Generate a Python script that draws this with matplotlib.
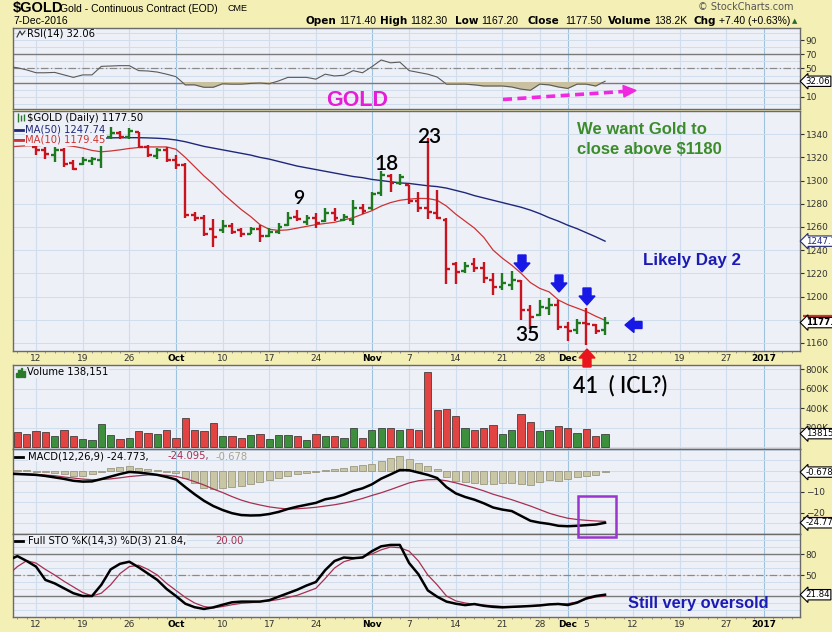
import numpy as np
import pandas as pd
import matplotlib
matplotlib.use("Agg")
import matplotlib.pyplot as plt
from matplotlib.patches import Polygon, Rectangle

# ---------------- data ----------------
holidays = pd.to_datetime(["2016-11-24", "2016-12-26", "2017-01-02"])
days = pd.bdate_range("2016-09-07", "2017-01-06")
days = list(days[~days.isin(holidays)])
first_bar = days.index(pd.Timestamp("2016-09-12"))

tick_dates = ["2016-09-12", "2016-09-19", "2016-09-26", "2016-10-03", "2016-10-10",
              "2016-10-17", "2016-10-24", "2016-11-01", "2016-11-07", "2016-11-14",
              "2016-11-21", "2016-11-28", "2016-12-01", "2016-12-05", "2016-12-12",
              "2016-12-19", "2016-12-27", "2017-01-03"]
tick_labels = ["12", "19", "26", "Oct", "10", "17", "24", "Nov", "7", "14",
               "21", "28", "Dec", "5", "12", "19", "27", "2017"]
months = ("Oct", "Nov", "Dec", "2017")

# OHLC, 12 Sep .. 7 Dec 2016
opens = [1329, 1326, 1322, 1326, 1315, 1314, 1317, 1318, 1338, 1341, 1338, 1342, 1329, 1321,
         1326, 1318, 1313, 1270, 1268, 1258, 1257, 1261, 1257, 1254, 1258, 1252, 1256, 1262,
         1269, 1264, 1268, 1265, 1272, 1266, 1266, 1276, 1276, 1289, 1304, 1298, 1296, 1282,
         1276, 1272, 1266, 1228, 1222, 1228, 1225, 1214, 1208, 1210, 1213, 1188, 1184, 1190,
         1193, 1174, 1171, 1177, 1175, 1171.4]
highs = [1331, 1329, 1329, 1328, 1318, 1320, 1320, 1338, 1346, 1343, 1345, 1342, 1331, 1328,
         1329, 1322, 1315, 1273, 1270, 1267, 1266, 1263, 1259, 1260, 1262, 1259, 1263, 1273,
         1275, 1270, 1272, 1276, 1276, 1271, 1283, 1280, 1290, 1308, 1306, 1306, 1296, 1290,
         1337, 1292, 1268, 1230, 1230, 1233, 1230, 1220, 1220, 1222, 1214, 1193, 1197, 1199,
         1197, 1178, 1181, 1190, 1176, 1182.3]
lows = [1322, 1319, 1316, 1312, 1309, 1313, 1313, 1311, 1336, 1336, 1336, 1328, 1320, 1319,
        1316, 1310, 1268, 1265, 1252, 1243, 1255, 1254, 1251, 1254, 1247, 1251, 1254, 1261,
        1265, 1262, 1259, 1264, 1265, 1265, 1262, 1271, 1275, 1287, 1290, 1296, 1280, 1273,
        1267, 1267, 1211, 1211, 1220, 1221, 1212, 1201, 1206, 1206, 1180, 1172, 1183, 1184,
        1171, 1162, 1168, 1158, 1168, 1167.2]
closes = [1326, 1323, 1326, 1314, 1310, 1318, 1319, 1336, 1341, 1338, 1343, 1329, 1322, 1326,
          1318, 1313, 1270, 1268, 1254, 1251, 1261, 1256, 1254, 1258, 1252, 1256, 1260, 1268,
          1267, 1268, 1263, 1272, 1268, 1269, 1276, 1274, 1288, 1305, 1298, 1303, 1282, 1276,
          1273, 1268, 1224, 1221, 1226, 1225, 1216, 1208, 1212, 1214, 1188, 1182, 1191, 1193,
          1174, 1170, 1177, 1176, 1170.1, 1177.5]
closes_before = [1349, 1337, 1328]   # 7-9 Sep, only colour the volume bars

# lines, 7 Sep .. 7 Dec
ma10 = [1329, 1329.5, 1330, 1330, 1330.5, 1330.5, 1330.5, 1329.5, 1328, 1326, 1324.8, 1325.5,
        1326.5, 1327.7, 1328.5, 1329, 1329, 1329, 1327, 1320, 1312, 1304, 1297, 1289, 1282,
        1275, 1269, 1262, 1258, 1257, 1257.5, 1259, 1260.5, 1262, 1263, 1264, 1266, 1268, 1271,
        1274, 1278, 1281, 1283, 1284, 1284.6, 1284.5, 1283, 1278, 1271, 1265, 1259, 1251, 1240,
        1233, 1227, 1220, 1212, 1207, 1204, 1197, 1193, 1190, 1187, 1183, 1179.45]
ma50 = [1334.5, 1335, 1335, 1335.5, 1335.5, 1336, 1336, 1336, 1336, 1336.3, 1336.5, 1336.8,
        1337, 1337, 1337, 1336.8, 1336.5, 1336, 1335, 1333.5, 1331.5, 1329.5, 1328, 1326.5,
        1325, 1323.5, 1322, 1320, 1318.5, 1316.5, 1314.5, 1312.5, 1311, 1309.5, 1308, 1306.5,
        1305, 1303.5, 1302.5, 1301, 1300, 1299, 1298, 1297.5, 1296.5, 1295.5, 1294.8, 1293.5,
        1291.5, 1289.5, 1287, 1285, 1283, 1281, 1279, 1277, 1274.5, 1271.5, 1268, 1265, 1261.5,
        1258.5, 1255, 1251.5, 1247.74]
rsi = [53, 51, 48, 44, 44, 44.5, 41, 37.5, 41, 41, 53, 53.5, 54, 54, 47, 46.5, 45, 42, 38.5,
       27, 27, 23.6, 23.6, 28.5, 28, 28, 29, 29.5, 28.5, 32.5, 37.5, 37.5, 37.5, 35, 42, 39.5,
       40.5, 47, 44, 52.5, 62, 58, 59, 47, 44.5, 42, 38, 28, 28, 28, 27, 25.4, 25.4, 25.4, 24,
       21, 19.4, 28, 27, 24, 22, 28, 28, 25.4, 32.06]
macd = [-1.4, -1.6, -1.8, -2.0, -2.5, -3.2, -3.9, -4.8, -5.2, -5.1, -4.0, -2.8, -1.6, -0.6,
        -0.9, -1.4, -2.0, -3.0, -4.2, -7.8, -11.2, -14.3, -16.8, -18.7, -20.2, -21.1, -21.3,
        -21.2, -20.6, -19.6, -18.2, -17.1, -16.2, -15.3, -13.6, -12.8, -11.4, -9.6, -8.4, -6.5,
        -3.8, -1.8, 0.3, 0.2, -0.9, -2.0, -3.5, -7.8, -10.8, -12.5, -13.8, -15.5, -17.5, -18.5,
        -19.2, -21.5, -23.8, -24.7, -25.3, -26.2, -26.4, -26.2, -25.9, -25.6, -24.773]
signal = [-1.2, -1.3, -1.5, -1.8, -2.1, -2.4, -3.0, -3.5, -4.0, -4.3, -4.2, -3.9, -3.4, -2.8,
          -2.4, -2.0, -2.0, -2.2, -2.7, -3.8, -5.2, -6.8, -8.7, -10.4, -12.3, -14.0, -15.3,
          -16.3, -17.2, -17.8, -18.2, -18.1, -17.8, -17.4, -16.8, -16.2, -15.4, -14.4, -13.2,
          -11.8, -10.5, -9.0, -7.4, -5.8, -4.8, -4.3, -4.2, -4.8, -5.8, -7.0, -8.2, -9.6, -11.2,
          -12.5, -13.8, -15.3, -16.8, -18.5, -20.2, -21.5, -22.6, -23.2, -23.6, -23.9, -24.095]
stoch_k = [71, 77, 70, 62, 43, 38, 31, 24, 20, 20, 36, 58, 66, 69, 61, 52, 43, 30, 20, 9, 4,
           1.5, 3.8, 7.5, 11, 12, 12, 12, 14, 19, 24, 29, 35, 40, 57, 70, 75, 74, 75, 84, 91, 93,
           93, 67, 51, 28, 19, 12, 9, 7, 8.5, 6, 4.5, 3.8, 4.5, 5, 5.7, 6.5, 8, 8.6, 7.1, 10.5,
           16.7, 20, 21.84]
stoch_d = [50, 62, 70.5, 67, 58, 50, 41, 33, 25, 20, 24, 36, 52, 62, 64, 58, 50, 38, 28, 18,
           10, 5, 3, 5, 7.5, 9.5, 10.5, 12, 13, 15, 18, 21, 26, 31, 45, 60, 69, 73, 76, 80, 86,
           90, 89, 84, 70, 50, 36, 20, 13, 10, 8, 7, 6, 5, 4.8, 5.2, 6, 7, 7.8, 8.5, 9, 11.5,
           15.5, 18.5, 20]

# bars, 8 Sep .. 7 Dec
volume = [154e3, 130e3, 162e3, 151e3, 110e3, 179e3, 110e3, 86e3, 68e3, 234e3, 127e3, 86e3,
          96e3, 162e3, 144e3, 130e3, 179e3, 96e3, 304e3, 179e3, 162e3, 248e3, 110e3, 110e3,
          96e3, 120e3, 138e3, 86e3, 120e3, 120e3, 110e3, 76e3, 130e3, 110e3, 110e3, 96e3,
          200e3, 96e3, 172e3, 200e3, 200e3, 179e3, 190e3, 172e3, 776e3, 379e3, 397e3, 317e3,
          200e3, 172e3, 200e3, 224e3, 138e3, 179e3, 338e3, 258e3, 162e3, 179e3, 213e3, 200e3,
          144e3, 190e3, 110e3, 138151]
macd_hist = [0.3, 0.3, -0.6, -0.8, -1.2, -1.8, -2.3, -2.3, -1.6, -0.6, 1.1, 1.6, 2.0, 1.3, 0.6,
             0.3, -0.4, -1.2, -3.6, -6.0, -8.0, -8.5, -8.3, -7.9, -7.1, -6.3, -5.5, -4.6, -3.5,
             -2.4, -1.6, -1.0, -0.5, 0.4, 0.9, 1.5, 2.1, 2.6, 3.2, 4.6, 5.9, 6.8, 5.6, 3.6, 2.0,
             0.6, -3.2, -4.8, -5.6, -5.9, -6.2, -6.3, -6.0, -5.7, -6.3, -6.8, -5.3, -4.5, -4.7,
             -4.0, -3.2, -2.5, -2.0, -0.678]

# ---------------- layout / style ----------------
W, H = 832, 632
L, R = 13, 800
X0, X1 = -2.47, 81.9
BG = "#F3EFB5"
PANEL = "#EEF0F8"
GRID = "#CFDDEC"
MGRID = "#9EC3DF"
UP, DN = "#1E7A1E", "#C8141E"
VUP, VDN = "#3D8E3D", "#E24444"
FONT = "DejaVu Sans"

fig = plt.figure(figsize=(W / 100, H / 100), dpi=100, facecolor=BG)

tick_pos = [days.index(pd.Timestamp(d)) - first_bar for d in tick_dates]
x_line = np.arange(len(ma10)) - 3
x_vol = np.arange(len(volume)) - 2
x_bar = np.arange(len(closes))


def panel(top, bottom, yticks, ylim, hlines=(), show_dates=False):
    ax = fig.add_axes([L / W, 1 - bottom / H, (R - L) / W, (bottom - top) / H])
    ax.set_facecolor(PANEL)
    ax.set_xlim(X0, X1)
    ax.set_ylim(*ylim)
    for s in ax.spines.values():
        s.set_color("#6A6A6A")
        s.set_linewidth(1)
    for p, lab in zip(tick_pos, tick_labels):
        ax.axvline(p, color=MGRID if lab in months else GRID, lw=0.8, zorder=0)
    for y in hlines:
        ax.axhline(y, color=GRID, lw=0.7, zorder=0)
    ax.yaxis.tick_right()
    ax.set_yticks(yticks)
    ax.tick_params(axis="y", labelsize=6.5, length=3, width=0.8, pad=1,
                   colors="#333333", labelfontfamily=FONT)
    ax.set_xticks(tick_pos)
    ax.set_xticks(np.arange(-2, 82), minor=True)
    ax.tick_params(axis="x", which="both", length=0)
    if show_dates:
        ax.set_xticklabels(tick_labels)
        ax.tick_params(axis="x", which="major", labelsize=6.5, pad=2, colors="#333333")
        ax.tick_params(axis="x", which="minor", length=1.5, color="#888888", direction="out")
        for t in ax.get_xticklabels():
            t.set_fontfamily(FONT)
            if t.get_text() in months:
                t.set_fontweight("bold")
                t.set_color("black")
    else:
        ax.set_xticklabels([])
    return ax


def tag(ax, value, text, ec="black", tc="black", bold=False):
    ax.annotate(text, xy=(1, value), xycoords=("axes fraction", "data"),
                xytext=(4, 0), textcoords="offset points", ha="left", va="center",
                fontsize=6.2, family=FONT, color=tc, fontweight="bold" if bold else "normal",
                bbox=dict(boxstyle="larrow,pad=0.08", fc="white", ec=ec, lw=0.8),
                annotation_clip=False, zorder=10)


def hidden_tag(ax, value, col):
    # tag that sits behind the next one, only its outline peeks out
    ax.add_patch(Rectangle((1.004, value), 0.05, 0, transform=ax.get_yaxis_transform(),
                           clip_on=False, ec=col, lw=1.6, zorder=9))


# RSI
ax_rsi = panel(28, 109, [10, 50, 70, 90], (-7, 107), hlines=np.arange(0, 101, 10))
ax_rsi.axhline(70, color="#7A7A7A", lw=1)
ax_rsi.axhline(30, color="#7A7A7A", lw=1)
ax_rsi.axhline(50, color="#8A8A8A", lw=0.9, ls=(0, (6, 2, 1, 2)))
rsi_a = np.array(rsi)
ax_rsi.fill_between(x_line, rsi_a, 30, where=rsi_a < 30, interpolate=True,
                    color="#C9C0A0", zorder=2)
ax_rsi.plot(x_line, rsi_a, color="#5A5A5A", lw=0.8, zorder=3)
tag(ax_rsi, rsi[-1], "32.06")

# Price
ax_p = panel(111, 351, [1160, 1200, 1220, 1240, 1260, 1280, 1300, 1320, 1340],
             (1153, 1360), hlines=np.arange(1160, 1361, 20), show_dates=True)
prev = closes_before[-1:] + closes[:-1]
bar_col = [UP if c > p else DN for c, p in zip(closes, prev)]
ax_p.plot(x_line, ma50, color="#1F2878", lw=1.0, zorder=2)
ax_p.plot(x_line, ma10, color="#CC3333", lw=0.9, zorder=2)
ax_p.vlines(x_bar, lows, highs, colors=bar_col, lw=1.7, zorder=3)
ax_p.hlines(opens, x_bar - 0.42, x_bar, colors=bar_col, lw=1.7, zorder=3)
ax_p.hlines(closes, x_bar, x_bar + 0.42, colors=bar_col, lw=1.7, zorder=3)
tag(ax_p, ma50[-1], "1247.74", ec="#1F2878", tc="#1F2878")
hidden_tag(ax_p, ma10[-1] + 3.5, "#CC3333")
tag(ax_p, closes[-1], "1177.50", bold=True)

# Volume
ax_v = panel(365, 449, [200e3, 400e3, 600e3, 800e3], (-20e3, 845e3),
             hlines=np.arange(0, 800001, 200e3))
ax_v.set_yticklabels(["200K", "400K", "600K", "800K"])
all_closes = closes_before + closes
vol_col = [VUP if all_closes[k + 1] > all_closes[k] else VDN for k in range(len(volume))]
ax_v.bar(x_vol, volume, width=0.78, color=vol_col, edgecolor="#2B2B2B", lw=0.5, zorder=3)
tag(ax_v, volume[-1], "138151")

# MACD
ax_m = panel(449, 534, [-20, -10], (-30.1, 10.3), hlines=np.arange(-30, 11, 5))
ax_m.bar(x_vol, macd_hist, width=0.75, color="#C9C6A6", edgecolor="#8E8B73", lw=0.5, zorder=2)
ax_m.plot(x_line, signal, color="#A63050", lw=0.9, zorder=3)
ax_m.plot(x_line, macd, color="black", lw=1.8, zorder=4)
hidden_tag(ax_m, signal[-1] + 1.6, "#CC2222")
tag(ax_m, macd[-1], "-24.773")
tag(ax_m, macd_hist[-1], "-0.678")

# Full stochastics
ax_s = panel(534, 617, [50, 80], (-10, 108.6), hlines=np.arange(0, 101, 10), show_dates=True)
ax_s.axhline(80, color="#7A7A7A", lw=1)
ax_s.axhline(20, color="#7A7A7A", lw=1)
ax_s.axhline(50, color="#8A8A8A", lw=0.9, ls=(0, (6, 2, 1, 2)))
ax_s.plot(x_line, stoch_d, color="#A63050", lw=0.9, zorder=3)
ax_s.plot(x_line, stoch_k, color="black", lw=1.8, zorder=4)
tag(ax_s, stoch_k[-1], "21.84")

# ---------------- overlay in pixel coordinates: header, legends, notes ----------------
ov = fig.add_axes([0, 0, 1, 1], zorder=20)
ov.set_xlim(0, W)
ov.set_ylim(H, 0)
ov.axis("off")
ov.patch.set_alpha(0)

ov.text(13, 8, "$GOLD", fontsize=10.5, fontweight="bold", family="Liberation Sans", va="center")
ov.text(60, 8.5, "Gold - Continuous Contract (EOD)", fontsize=7.5, family="Liberation Sans",
        va="center")
ov.text(227, 8.5, "CME", fontsize=6.5, family="Liberation Sans", va="center")
ov.text(13, 21.5, "7-Dec-2016", fontsize=7.5, family="Liberation Sans", va="center")
ov.text(793, 7, "\u00a9 StockCharts.com", fontsize=7, family=FONT, color="#555555",
        ha="right", va="center")
head = [(306, "Open", True), (339, "1171.40", False), (380, "High", True),
        (410, "1182.30", False), (455, "Low", True), (481, "1167.20", False),
        (528, "Close", True), (565, "1177.50", False), (608, "Volume", True),
        (654, "138.2K", False), (694, "Chg", True), (719, "+7.40 (+0.63%)", False)]
for hx, txt, b in head:
    ov.text(hx, 21, txt, fontsize=7.5, va="center",
            family=FONT if b else "Liberation Sans", fontweight="bold" if b else "normal")
ov.text(792, 21, "\u25b2", fontsize=5, color="#2A6A2A", va="center", family=FONT)

legend_box = dict(boxstyle="square,pad=0.05", fc=PANEL, ec="none")
ov.text(27, 34, "RSI(14) 32.06", fontsize=7.2, family=FONT, va="center", bbox=legend_box)
ov.plot([17, 20, 22, 25], [37, 31, 35, 31], color="#333333", lw=0.8)
ov.text(27, 118, "$GOLD (Daily) 1177.50", fontsize=7.2, family=FONT, va="center",
        bbox=legend_box)
ov.vlines([17.5, 20.5, 23.5], [113, 115, 114], [122, 121, 121], color="#2A7A2A", lw=1)
ov.plot([15, 23], [129.5, 129.5], color="#1F2878", lw=2)
ov.text(25, 129.5, "MA(50) 1247.74", fontsize=7.2, family=FONT, color="#1F2878", va="center",
        bbox=legend_box)
ov.plot([15, 23], [140, 140], color="#CC3333", lw=2)
ov.text(25, 140, "MA(10) 1179.45", fontsize=7.2, family=FONT, color="#CC3333", va="center",
        bbox=legend_box)
ov.text(27, 372.5, "Volume 138,151", fontsize=7.2, family=FONT, va="center", bbox=legend_box)
for k, hh in enumerate([4, 7, 9, 6]):
    ov.add_patch(Rectangle((16 + 2.3 * k, 377 - hh), 1.8, hh, color="#2A7A2A"))
ov.plot([15, 23], [456.5, 456.5], color="black", lw=2)
ov.text(28, 456.5, "MACD(12,26,9) -24.773,", fontsize=7.2, family=FONT, va="center",
        bbox=legend_box)
ov.text(168, 456.5, "-24.095,", fontsize=7.2, family=FONT, color="#A63050", va="center")
ov.text(216, 456.5, "-0.678", fontsize=7.2, family=FONT, color="#A8A490", va="center")
ov.plot([15, 23], [540.5, 540.5], color="black", lw=2)
ov.text(28, 540.5, "Full STO %K(14,3) %D(3) 21.84,", fontsize=7.2, family=FONT, va="center",
        bbox=legend_box)
ov.text(215, 540.5, "20.00", fontsize=7.2, family=FONT, color="#A63050", va="center")

# hand-drawn notes
ov.text(357, 101, "GOLD", fontsize=15.5, fontweight="bold", family="Liberation Sans",
        color="#E61CD6", ha="center", va="center")
ov.plot([503, 623], [99.5, 91.5], color="#F028E0", lw=2.6, ls=(0, (2.5, 1.5)))
ov.add_patch(Polygon([(623, 85.5), (636, 90.5), (624, 97)], closed=True, color="#F028E0"))

bold_txt = dict(fontweight="bold", family="Liberation Sans", va="center")
ov.text(577, 130, "We want Gold to", fontsize=12, color="#3C8C2C", **bold_txt)
ov.text(577, 150, "close above $1180", fontsize=12, color="#3C8C2C", **bold_txt)
ov.text(692, 260.5, "Likely Day 2", fontsize=12.2, color="#1C1CB4", ha="center", **bold_txt)
ov.text(698, 603.5, "Still very oversold", fontsize=11.8, color="#1C1CB4", ha="center",
        **bold_txt)

num_txt = dict(family="Lato", fontweight="semibold", color="black", ha="center", va="center")
ov.text(299, 198, "9", fontsize=14, **num_txt)
ov.text(387, 164, "18", fontsize=15, **num_txt)
ov.text(429, 137, "23", fontsize=15, **num_txt)
ov.text(527, 335, "35", fontsize=15, **num_txt)
ov.text(573, 386, "41  ( ICL?)", fontsize=15.5, family="Lato", fontweight="semibold",
        color="black", va="center")


def down_arrow(cx, tip, col):
    ov.add_patch(Polygon([(cx - 4, tip - 17), (cx + 4, tip - 17), (cx + 4, tip - 9),
                          (cx + 8, tip - 9), (cx, tip), (cx - 8, tip - 9), (cx - 4, tip - 9)],
                         closed=True, color=col))


down_arrow(522, 272, "#1818E6")
down_arrow(559, 292, "#1818E6")
down_arrow(587, 305, "#1818E6")
ov.add_patch(Polygon([(625, 325), (634, 317.5), (634, 321.5), (642, 321.5), (642, 328.5),
                      (634, 328.5), (634, 332.5)], closed=True, color="#1818E6"))
ov.add_patch(Polygon([(587, 349), (595, 358), (591, 358), (591, 367), (583, 367), (583, 358),
                      (579, 358)], closed=True, color="#E8141E"))
ov.add_patch(Rectangle((578, 496), 38, 41, fill=False, ec="#9B35CF", lw=1.8))

fig.savefig("out.png", dpi=100, facecolor=BG)
